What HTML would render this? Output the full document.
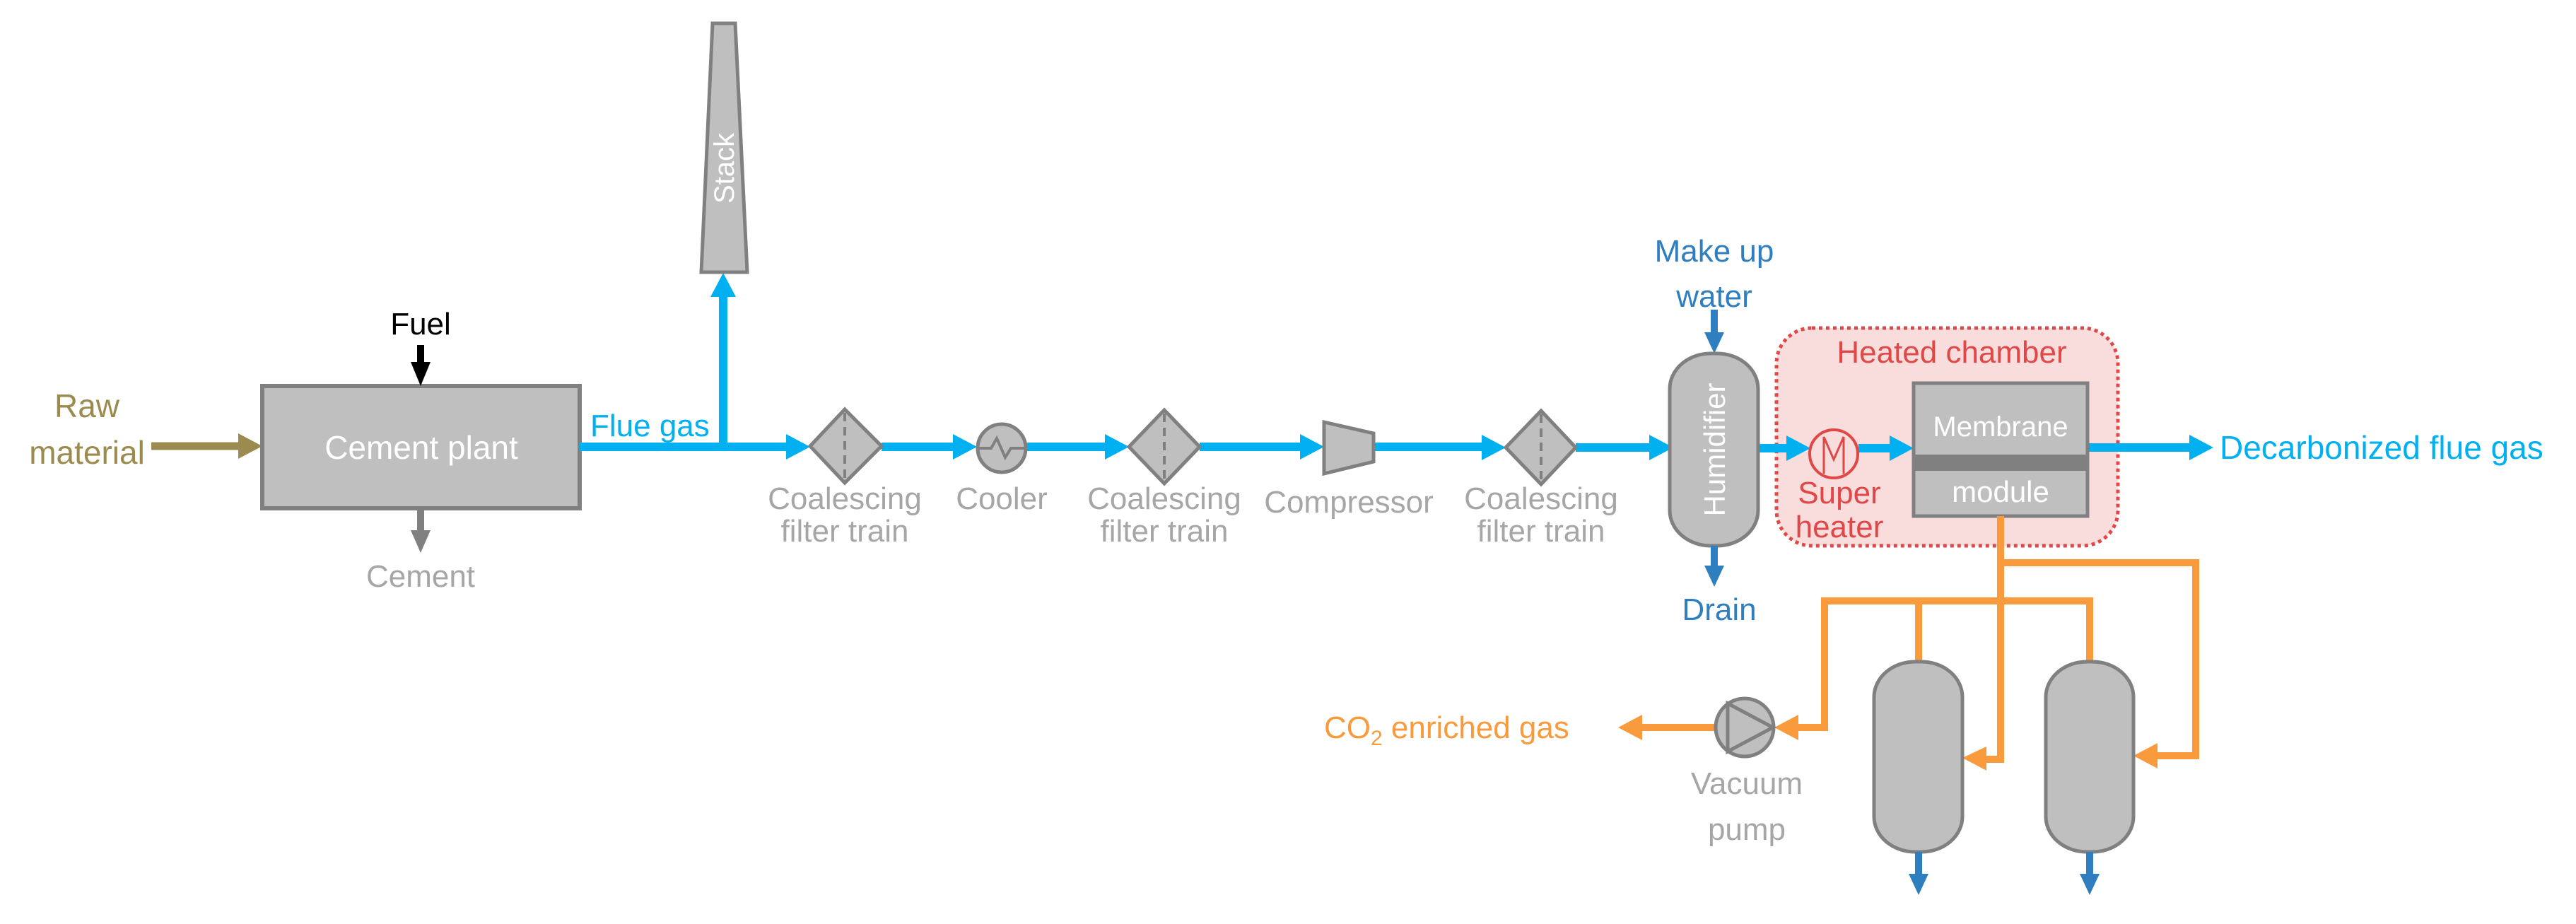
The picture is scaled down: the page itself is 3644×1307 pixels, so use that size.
<!DOCTYPE html>
<html><head><meta charset="utf-8"><style>
html,body{margin:0;padding:0;background:#fff;}
svg{display:block;}
text{font-family:"Liberation Sans",sans-serif;}
</style></head><body>
<svg width="3644" height="1307" viewBox="0 0 3644 1307" xmlns="http://www.w3.org/2000/svg">
<!-- Heated chamber -->
<rect x="2513" y="464" width="483" height="308" rx="50" fill="#F9DCDC" stroke="#E04848" stroke-width="5" stroke-dasharray="5,5"/>
<text x="2761" y="513" font-size="44" fill="#E04848" text-anchor="middle">Heated chamber</text>

<!-- Raw material -->
<text x="123" y="590" font-size="46" fill="#9B8B4E" text-anchor="middle">Raw</text>
<text x="123" y="656" font-size="46" fill="#9B8B4E" text-anchor="middle">material</text>
<line x1="214" y1="631" x2="340" y2="631" stroke="#9B8B4E" stroke-width="11"/>
<polygon points="337,613 371,631 337,649" fill="#9B8B4E"/>

<!-- Cement plant -->
<rect x="371" y="546" width="449" height="173" fill="#BFBFBF" stroke="#808080" stroke-width="6"/>
<text x="596" y="649" font-size="46" fill="#fff" text-anchor="middle">Cement plant</text>
<text x="595" y="473" font-size="44" fill="#000" text-anchor="middle">Fuel</text>
<line x1="595" y1="488" x2="595" y2="515" stroke="#000" stroke-width="10"/>
<polygon points="581,512 609,512 595,546" fill="#000"/>
<line x1="595" y1="719" x2="595" y2="752" stroke="#808080" stroke-width="10"/>
<polygon points="581,750 609,750 595,782" fill="#808080"/>
<text x="595" y="830" font-size="44" fill="#A6A6A6" text-anchor="middle">Cement</text>

<!-- Flue gas -->
<g stroke="#00B0F0" stroke-width="12" fill="none">
<line x1="820" y1="632" x2="1114" y2="632"/>
<line x1="1023" y1="638" x2="1023" y2="418"/>
<line x1="1247" y1="632" x2="1350" y2="632"/>
<line x1="1452" y1="632" x2="1565" y2="632"/>
<line x1="1697" y1="632" x2="1841" y2="632"/>
<line x1="1943" y1="632" x2="2098" y2="632"/>
<line x1="2229" y1="633" x2="2335" y2="633"/>
<line x1="2487" y1="634" x2="2529" y2="634"/>
<line x1="2629" y1="634" x2="2675" y2="634"/>
<line x1="2953" y1="633" x2="3099" y2="633"/>
</g>
<g fill="#00B0F0">
<polygon points="1112,614 1146,632 1112,650"/>
<polygon points="1005,420 1023,386 1041,420"/>
<polygon points="1348,614 1382,632 1348,650"/>
<polygon points="1563,614 1597,632 1563,650"/>
<polygon points="1839,614 1873,632 1839,650"/>
<polygon points="2096,615 2130,633 2096,651"/>
<polygon points="2333,615 2367,633 2333,651"/>
<polygon points="2527,616 2561,634 2527,652"/>
<polygon points="2673,616 2707,634 2673,652"/>
<polygon points="3097,615 3131,633 3097,651"/>
</g>
<text x="835" y="617" font-size="44" fill="#00B0F0">Flue gas</text>
<text x="3140" y="649" font-size="46" fill="#00B0F0">Decarbonized flue gas</text>

<!-- Stack -->
<polygon points="1008,33 1040,33 1057,385 992,385" fill="#BFBFBF" stroke="#808080" stroke-width="5"/>
<text x="0" y="0" font-size="40" fill="#fff" text-anchor="middle" transform="translate(1038,238) rotate(-90)">Stack</text>

<!-- Filters -->
<g fill="#BFBFBF" stroke="#808080" stroke-width="5">
<polygon points="1146,631 1195,579 1247,631 1195,683"/>
<polygon points="1597,632 1647,580 1697,632 1647,684"/>
<polygon points="2130,633 2180,581 2229,633 2180,685"/>
<circle cx="1417" cy="634" r="34"/>
<polygon points="1873,597 1943,613 1943,653 1873,670"/>
</g>
<g stroke="#808080" stroke-width="4" stroke-dasharray="12,8">
<line x1="1195" y1="584" x2="1195" y2="678"/>
<line x1="1647" y1="585" x2="1647" y2="679"/>
<line x1="2180" y1="586" x2="2180" y2="680"/>
</g>
<polyline points="1385,634 1402,634 1410,620 1422,647 1430,634 1450,634" fill="none" stroke="#808080" stroke-width="4"/>

<g font-size="44" fill="#A6A6A6" text-anchor="middle">
<text x="1195" y="720">Coalescing</text><text x="1195" y="766">filter train</text>
<text x="1417" y="720">Cooler</text>
<text x="1647" y="720">Coalescing</text><text x="1647" y="766">filter train</text>
<text x="1908" y="725">Compressor</text>
<text x="2180" y="720">Coalescing</text><text x="2180" y="766">filter train</text>
</g>

<!-- Humidifier -->
<text x="2425" y="370" font-size="44" fill="#2E7EC0" text-anchor="middle">Make up</text>
<text x="2425" y="434" font-size="44" fill="#2E7EC0" text-anchor="middle">water</text>
<line x1="2425" y1="438" x2="2425" y2="472" stroke="#2E7EC0" stroke-width="10"/>
<polygon points="2411,470 2439,470 2425,500" fill="#2E7EC0"/>
<rect x="2362" y="500" width="125" height="272" rx="58" ry="50" fill="#BFBFBF" stroke="#808080" stroke-width="5"/>
<text x="0" y="0" font-size="42" fill="#fff" text-anchor="middle" transform="translate(2440,636) rotate(-90)">Humidifier</text>
<line x1="2425" y1="772" x2="2425" y2="802" stroke="#2E7EC0" stroke-width="10"/>
<polygon points="2411,800 2439,800 2425,830" fill="#2E7EC0"/>
<text x="2432" y="877" font-size="44" fill="#2E7EC0" text-anchor="middle">Drain</text>

<!-- Superheater -->
<circle cx="2594" cy="642" r="34" fill="none" stroke="#E04848" stroke-width="4"/>
<polyline points="2580,670 2580,618 2594,650 2608,618 2608,670" fill="none" stroke="#E04848" stroke-width="3"/>
<text x="2602" y="712" font-size="44" fill="#E04848" text-anchor="middle">Super</text>
<text x="2602" y="760" font-size="44" fill="#E04848" text-anchor="middle">heater</text>

<!-- Membrane -->
<rect x="2707" y="542" width="246" height="188" fill="#BFBFBF" stroke="#808080" stroke-width="5"/>
<rect x="2707" y="643" width="246" height="23" fill="#808080"/>
<text x="2830" y="617" font-size="40" fill="#fff" text-anchor="middle">Membrane</text>
<text x="2830" y="710" font-size="42" fill="#fff" text-anchor="middle">module</text>

<!-- Orange -->
<g stroke="#F99A3C" stroke-width="10" fill="none">
<polyline points="2830,730 2830,1074 2808,1074"/>
<polyline points="2830,796 3106,796 3106,1069 3050,1069"/>
<polyline points="2714,936 2714,850 2956,850 2956,936"/>
<polyline points="2714,850 2581,850 2581,1029 2540,1029"/>
<line x1="2426" y1="1029" x2="2315" y2="1029"/>
</g>
<g fill="#F99A3C">
<polygon points="2810,1056 2776,1072 2810,1090"/>
<polygon points="3052,1051 3018,1069 3052,1087"/>
<polygon points="2544,1011 2510,1029 2544,1047"/>
<polygon points="2323,1011 2289,1029 2323,1047"/>
</g>
<text x="1873" y="1044" font-size="44" fill="#F99A3C">CO<tspan font-size="30" dy="10">2</tspan><tspan dy="-10"> enriched gas</tspan></text>

<!-- Pump -->
<circle cx="2468" cy="1029" r="41" fill="#BFBFBF" stroke="#808080" stroke-width="5"/>
<polygon points="2444,995 2508,1029 2444,1063" fill="none" stroke="#808080" stroke-width="5"/>
<text x="2471" y="1123" font-size="44" fill="#A6A6A6" text-anchor="middle">Vacuum</text>
<text x="2471" y="1188" font-size="44" fill="#A6A6A6" text-anchor="middle">pump</text>

<!-- Vessels -->
<rect x="2651" y="936" width="125" height="269" rx="58" ry="50" fill="#BFBFBF" stroke="#808080" stroke-width="5"/>
<rect x="2894" y="936" width="124" height="269" rx="58" ry="50" fill="#BFBFBF" stroke="#808080" stroke-width="5"/>
<line x1="2714" y1="1205" x2="2714" y2="1238" stroke="#2E7EC0" stroke-width="10"/>
<polygon points="2700,1236 2728,1236 2714,1266" fill="#2E7EC0"/>
<line x1="2956" y1="1205" x2="2956" y2="1238" stroke="#2E7EC0" stroke-width="10"/>
<polygon points="2942,1236 2970,1236 2956,1266" fill="#2E7EC0"/>
</svg>
</body></html>
